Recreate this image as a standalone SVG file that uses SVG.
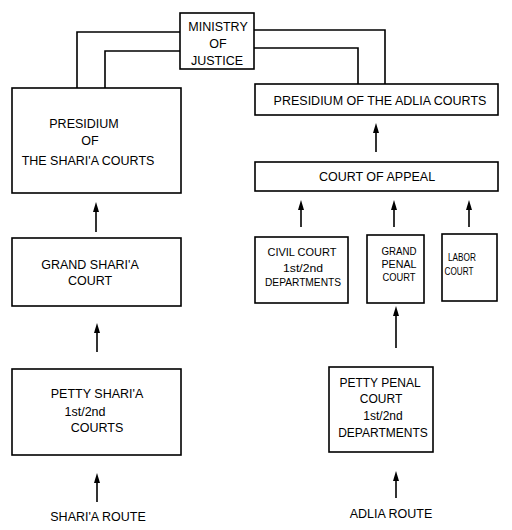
<svg xmlns="http://www.w3.org/2000/svg" width="512" height="530" viewBox="0 0 512 530">
<style>
.box{fill:#fff;stroke:#000;stroke-width:1.6}
.ln{fill:none;stroke:#000;stroke-width:1.6}
text{font-family:"Liberation Sans","DejaVu Sans",sans-serif;font-size:12.5px;fill:#000;text-anchor:middle}
.sm{font-size:11.5px}
.pp{font-size:12px}
</style>
<rect width="512" height="530" fill="#fff"/>
<g id="connectors">
<polyline class="ln" points="180,32 77,32 77,88"/>
<polyline class="ln" points="180,51 105,51 105,88"/>
<polyline class="ln" points="254,30 385,30 385,84"/>
<polyline class="ln" points="254,48 358,48 358,84"/>
<line class="ln" x1="96" y1="232" x2="96" y2="210"/>
<path d="M93,212 L96,202 L99,212 Z" fill="#000"/>
<line class="ln" x1="97" y1="352" x2="97" y2="332"/>
<path d="M94,333 L97,323 L100,333 Z" fill="#000"/>
<line class="ln" x1="97" y1="502" x2="97" y2="482"/>
<path d="M94,483 L97,473 L100,483 Z" fill="#000"/>
<line class="ln" x1="376" y1="152" x2="376" y2="132"/>
<path d="M373,133 L376,123 L379,133 Z" fill="#000"/>
<line class="ln" x1="301" y1="227" x2="301" y2="209"/>
<path d="M298,210 L301,200 L304,210 Z" fill="#000"/>
<line class="ln" x1="394" y1="227" x2="394" y2="209"/>
<path d="M391,210 L394,200 L397,210 Z" fill="#000"/>
<line class="ln" x1="469" y1="227" x2="469" y2="209"/>
<path d="M466,210 L469,200 L472,210 Z" fill="#000"/>
<line class="ln" x1="396" y1="348" x2="396" y2="315"/>
<path d="M393,316 L396,306 L399,316 Z" fill="#000"/>
<line class="ln" x1="396" y1="498" x2="396" y2="480"/>
<path d="M393,481 L396,471 L399,481 Z" fill="#000"/>
</g>
<g id="ministry">
<rect class="box" x="180" y="13" width="74" height="56"/>
<text x="218" y="31">MINISTRY</text>
<text x="218" y="48">OF</text>
<text x="217" y="65">JUSTICE</text>
</g>
<g id="presidium-sharia">
<rect class="box" x="12" y="88" width="169" height="105"/>
<text x="84" y="128">PRESIDIUM</text>
<text x="90" y="145">OF</text>
<text x="88" y="165">THE SHARI'A COURTS</text>
</g>
<g id="presidium-adlia">
<rect class="box" x="255" y="84" width="243" height="31"/>
<text x="380" y="105">PRESIDIUM OF THE ADLIA COURTS</text>
</g>
<g id="court-of-appeal">
<rect class="box" x="255" y="162" width="243" height="29"/>
<text x="377" y="181">COURT OF APPEAL</text>
</g>
<g id="grand-sharia">
<rect class="box" x="12" y="238" width="169" height="68"/>
<text x="90" y="269">GRAND SHARI'A</text>
<text x="90" y="285">COURT</text>
</g>
<g id="civil-court">
<rect class="box" x="255" y="237" width="93" height="66"/>
<text class="sm" x="302" y="256" textLength="69" lengthAdjust="spacingAndGlyphs">CIVIL COURT</text>
<text class="sm" x="303" y="272" textLength="40" lengthAdjust="spacingAndGlyphs">1st/2nd</text>
<text class="sm" x="303" y="286" textLength="76" lengthAdjust="spacingAndGlyphs">DEPARTMENTS</text>
</g>
<g id="grand-penal">
<rect class="box" x="367" y="235" width="57" height="68"/>
<text class="sm" x="399" y="255" textLength="35" lengthAdjust="spacingAndGlyphs">GRAND</text>
<text class="sm" x="399" y="268" textLength="35" lengthAdjust="spacingAndGlyphs">PENAL</text>
<text class="sm" x="399" y="281" textLength="33" lengthAdjust="spacingAndGlyphs">COURT</text>
</g>
<g id="labor-court">
<rect class="box" x="442" y="234" width="55" height="67"/>
<text class="sm" x="462" y="261" textLength="28" lengthAdjust="spacingAndGlyphs">LABOR</text>
<text class="sm" x="459" y="275" textLength="29" lengthAdjust="spacingAndGlyphs">COURT</text>
</g>
<g id="petty-sharia">
<rect class="box" x="12" y="369" width="169" height="86"/>
<text x="97" y="398">PETTY SHARI'A</text>
<text x="85" y="416">1st/2nd</text>
<text x="97" y="432">COURTS</text>
</g>
<g id="petty-penal">
<rect class="box" x="329" y="367" width="104" height="85"/>
<text class="pp" x="380" y="387">PETTY PENAL</text>
<text class="pp" x="381" y="403">COURT</text>
<text class="pp" x="383" y="420">1st/2nd</text>
<text class="pp" x="383" y="437">DEPARTMENTS</text>
</g>
<g id="sharia-route">
<text x="98" y="521">SHARI'A ROUTE</text>
</g>
<g id="adlia-route">
<text x="391" y="518">ADLIA ROUTE</text>
</g>
</svg>
